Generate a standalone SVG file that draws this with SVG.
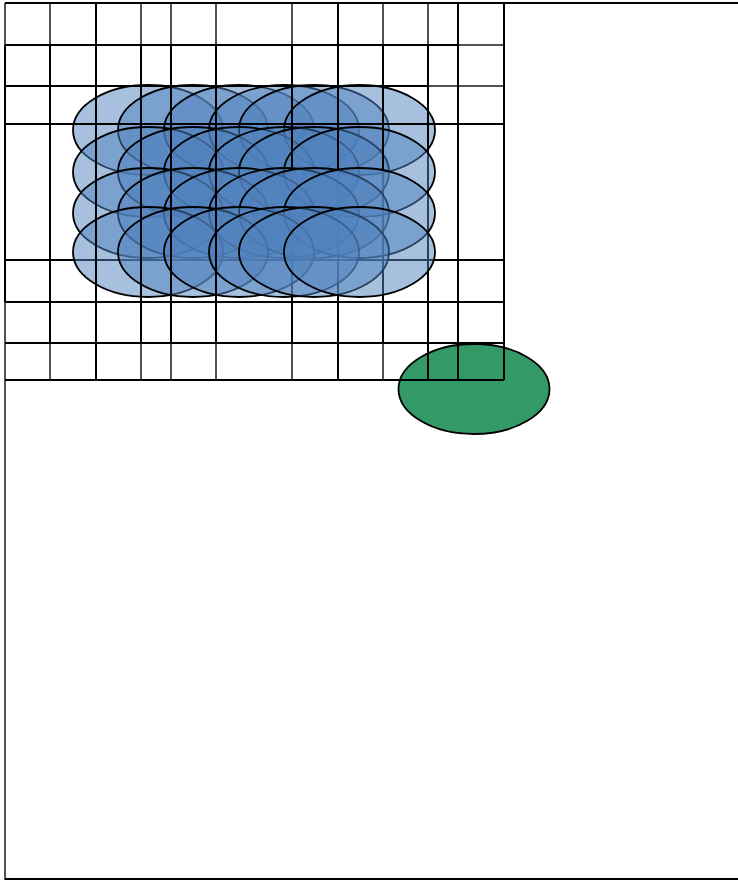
<svg xmlns="http://www.w3.org/2000/svg" width="738" height="880" viewBox="0 0 738 880">
<style>
.thin{stroke:#000;stroke-width:1.5;stroke-opacity:0.9;fill:none}
.thick{stroke:#000;stroke-width:2;fill:none}
.b{fill:#4F81BD;fill-opacity:0.5;stroke:#000;stroke-width:1.8}
.g{fill:#339966;stroke:#000;stroke-width:1.8}
</style>
<rect x="0" y="0" width="738" height="880" fill="#fff"/>
<g id="green-node"><ellipse class="g" cx="474" cy="389" rx="75.5" ry="45"/></g>
<g id="grid-under">
<path class="thin" d="M50,3V380M96,3V380M141,3V380M171,3V380M216,3V380M292,3V380M338,3V380M383,3V380M428,3V380M458,3V380"/>
<path class="thin" d="M5,45H504M5,86H504M5,124H504M5,260H504M5,302H504M5,343H504M5,380H504"/>
<path class="thick" d="M5,260H504M292,170V343M338,170V380M383,170V343M428,150V380"/>
</g>
<g id="blue-nodes">
<g id="r1c1"><ellipse class="b" cx="148" cy="130" rx="75" ry="45"/></g>
<g id="r1c2"><ellipse class="b" cx="193" cy="130" rx="75" ry="45"/></g>
<g id="r1c3"><ellipse class="b" cx="239" cy="130" rx="75" ry="45"/></g>
<g id="r1c4"><ellipse class="b" cx="284" cy="130" rx="75" ry="45"/></g>
<g id="r1c5"><ellipse class="b" cx="314" cy="130" rx="75" ry="45"/></g>
<g id="r1c6"><ellipse class="b" cx="359.5" cy="130" rx="75.5" ry="45"/></g>
<g id="r2c1"><ellipse class="b" cx="148" cy="172" rx="75" ry="45"/></g>
<g id="r2c2"><ellipse class="b" cx="193" cy="172" rx="75" ry="45"/></g>
<g id="r2c3"><ellipse class="b" cx="239" cy="172" rx="75" ry="45"/></g>
<g id="r2c4"><ellipse class="b" cx="284" cy="172" rx="75" ry="45"/></g>
<g id="r2c5"><ellipse class="b" cx="314" cy="172" rx="75" ry="45"/></g>
<g id="r2c6"><ellipse class="b" cx="359.5" cy="172" rx="75.5" ry="45"/></g>
<g id="r3c1"><ellipse class="b" cx="148" cy="213" rx="75" ry="45"/></g>
<g id="r3c2"><ellipse class="b" cx="193" cy="213" rx="75" ry="45"/></g>
<g id="r3c3"><ellipse class="b" cx="239" cy="213" rx="75" ry="45"/></g>
<g id="r3c4"><ellipse class="b" cx="284" cy="213" rx="75" ry="45"/></g>
<g id="r3c5"><ellipse class="b" cx="314" cy="213" rx="75" ry="45"/></g>
<g id="r3c6"><ellipse class="b" cx="359.5" cy="213" rx="75.5" ry="45"/></g>
<g id="r4c1"><ellipse class="b" cx="148" cy="252" rx="75" ry="45"/></g>
<g id="r4c2"><ellipse class="b" cx="193" cy="252" rx="75" ry="45"/></g>
<g id="r4c3"><ellipse class="b" cx="239" cy="252" rx="75" ry="45"/></g>
<g id="r4c4"><ellipse class="b" cx="284" cy="252" rx="75" ry="45"/></g>
<g id="r4c5"><ellipse class="b" cx="314" cy="252" rx="75" ry="45"/></g>
<g id="r4c6"><ellipse class="b" cx="359.5" cy="252" rx="75.5" ry="45"/></g>
</g>
<g id="grid-over">
<path class="thick" d="M5,3H738M5,879H738"/>
<path class="thin" d="M5,3V880"/>
<path class="thick" d="M5,45V302M50,45V343M96,3V380M141,45V343M171,45V343M216,45V343M292,45V170M338,3V170M383,45V170M428,45V150M458,3V380M504,3V380"/>
<path class="thick" d="M5,45H458M5,86H428M5,124H504M5,302H504M5,343H504M5,380H504"/>
</g>
</svg>
